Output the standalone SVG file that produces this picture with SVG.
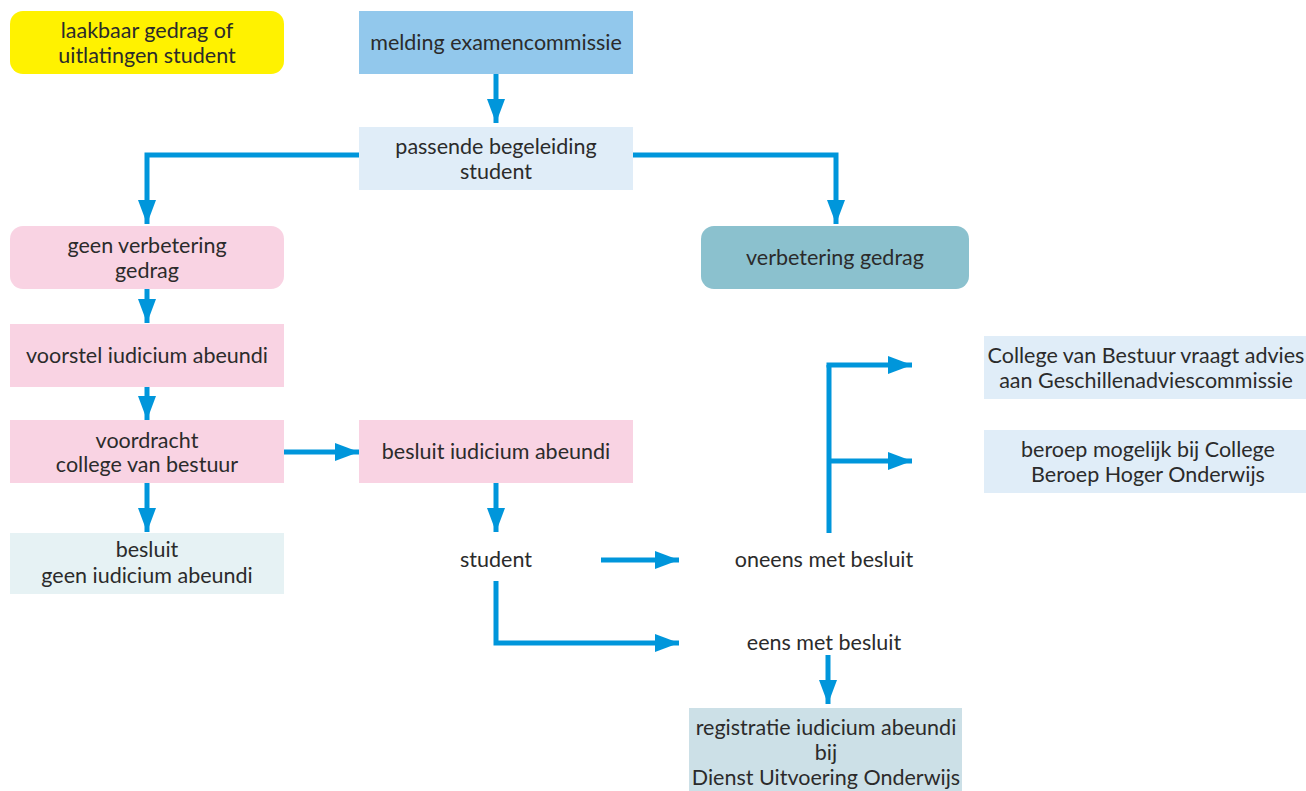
<svg xmlns="http://www.w3.org/2000/svg" width="1306" height="791" viewBox="0 0 1306 791">
<defs>
<marker id="ah" viewBox="0 0 24 18" refX="24" refY="9" markerWidth="24" markerHeight="18" markerUnits="userSpaceOnUse" orient="auto">
<path d="M0,0 L24,9 L0,18 z" fill="#0096DB"/>
</marker>
</defs>
<style>
text{font-family:Lato,"Open Sans","Liberation Sans",sans-serif;font-size:21.5px;fill:#2b2b2b;text-anchor:middle}
.c{fill:none;stroke:#0096DB;stroke-width:5;stroke-linejoin:miter}
.a{marker-end:url(#ah)}
</style>
<rect width="1306" height="791" fill="#ffffff"/>
<g id="n-laakbaar"><rect x="10" y="11" width="274" height="63" rx="13" fill="#FFF200"/><text x="147" y="38">laakbaar gedrag of</text><text x="147" y="63">uitlatingen student</text></g>
<g id="n-melding"><rect x="359" y="11" width="274" height="63" fill="#92C8EC"/><text x="496" y="50">melding examencommissie</text></g>
<g id="n-passende"><rect x="359" y="127" width="274" height="63" fill="#E0EDF8"/><text x="496" y="154">passende begeleiding</text><text x="496" y="179">student</text></g>
<g id="n-geen"><rect x="10" y="226" width="274" height="63" rx="13" fill="#F9D3E3"/><text x="147" y="253">geen verbetering</text><text x="147" y="278">gedrag</text></g>
<g id="n-verbetering"><rect x="701" y="226" width="268" height="63" rx="13" fill="#8BC1CE"/><text x="835" y="265">verbetering gedrag</text></g>
<g id="n-voorstel"><rect x="10" y="324" width="274" height="63" fill="#F9D3E3"/><text x="147" y="363">voorstel iudicium abeundi</text></g>
<g id="n-voordracht"><rect x="10" y="420" width="274" height="63" fill="#F9D3E3"/><text x="147" y="448">voordracht</text><text x="147" y="472">college van bestuur</text></g>
<g id="n-besluit"><rect x="359" y="420" width="274" height="63" fill="#F9D3E3"/><text x="496" y="459">besluit iudicium abeundi</text></g>
<g id="n-besluitgeen"><rect x="10" y="533" width="274" height="61" fill="#E6F2F4"/><text x="147" y="557">besluit</text><text x="147" y="583">geen iudicium abeundi</text></g>
<g id="n-student"><text x="496" y="567">student</text></g>
<g id="n-oneens"><text x="824" y="567">oneens met besluit</text></g>
<g id="n-eens"><text x="824" y="650">eens met besluit</text></g>
<g id="n-college"><rect x="984" y="336" width="322" height="63" fill="#E0EDF8"/><text x="1146" y="363">College van Bestuur vraagt advies</text><text x="1146" y="388">aan Geschillenadviescommissie</text></g>
<g id="n-beroep"><rect x="984" y="430" width="322" height="63" fill="#E0EDF8"/><text x="1148" y="457">beroep mogelijk bij College</text><text x="1148" y="482">Beroep Hoger Onderwijs</text></g>
<g id="n-registratie"><rect x="689" y="708" width="273" height="83" fill="#CCE0E7"/><text x="826" y="735">registratie iudicium abeundi</text><text x="826" y="760">bij</text><text x="826" y="785">Dienst Uitvoering Onderwijs</text></g>
<g id="connectors">
<path class="c a" d="M496,74 V123"/>
<path class="c a" d="M359,155 H147 V224"/>
<path class="c a" d="M633,155 H836 V224"/>
<path class="c a" d="M147,289 V323"/>
<path class="c a" d="M147,387 V420"/>
<path class="c a" d="M284,452 H359"/>
<path class="c a" d="M147,483 V532"/>
<path class="c a" d="M496,483 V532"/>
<path class="c a" d="M601,560 H679"/>
<path class="c a" d="M496,581 V643 H679"/>
<path class="c a" d="M828,655 V704"/>
<path class="c" d="M829,533 V365"/>
<path class="c a" d="M826.5,365 H912"/>
<path class="c a" d="M829,461 H912"/>
</g>
</svg>
